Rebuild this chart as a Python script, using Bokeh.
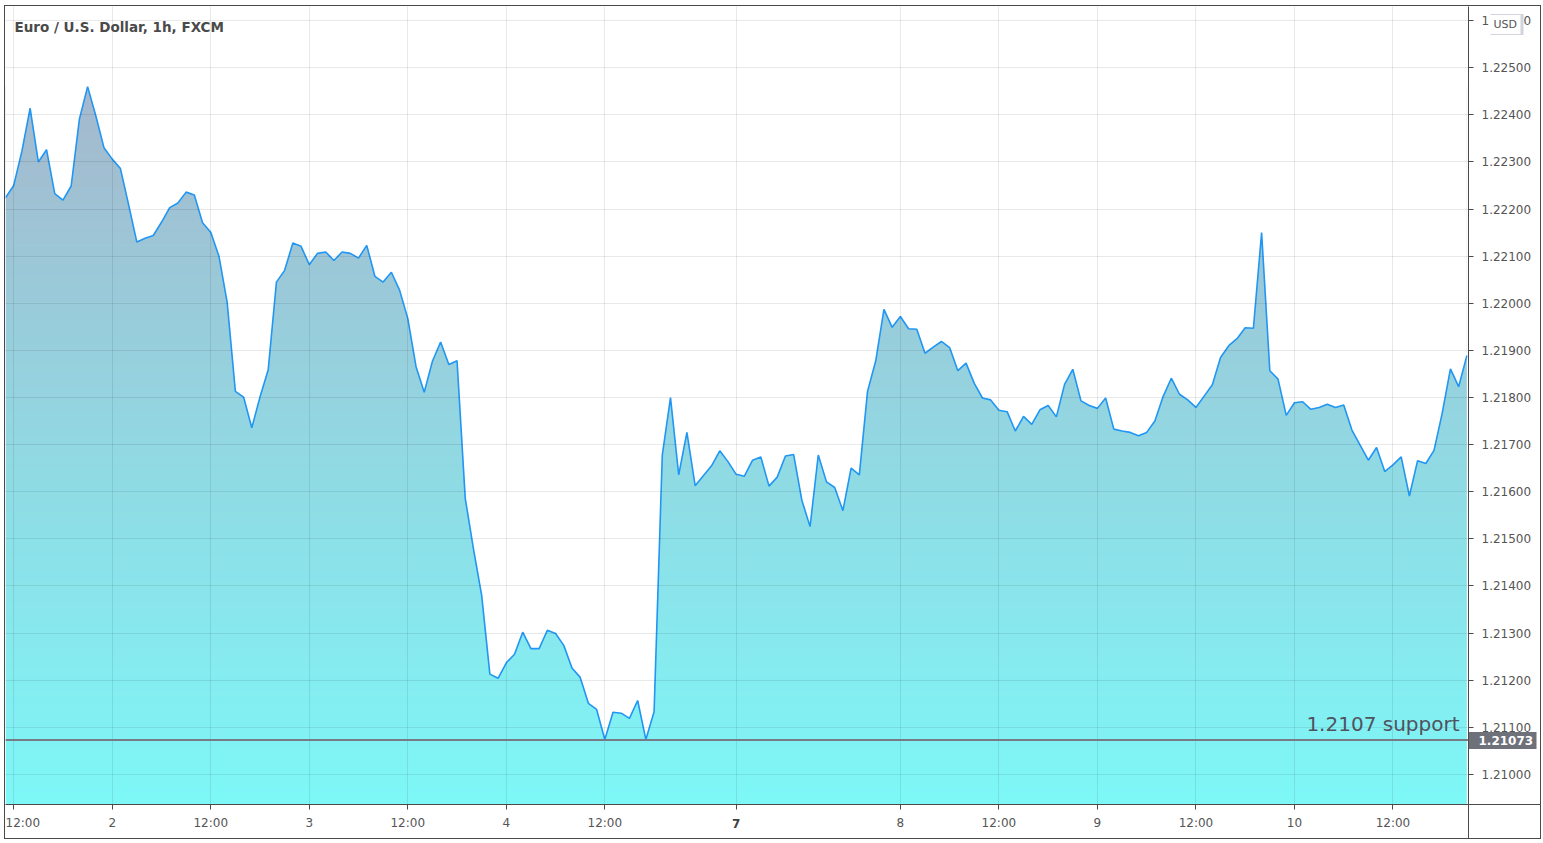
import numpy as np
from bokeh.plotting import figure
from bokeh.models import (FixedTicker, NumeralTickFormatter, Span, Label, LinearAxis,
                          CustomJSTickFormatter)
from bokeh.embed import file_html
from bokeh.resources import INLINE

# ---------------- data ----------------
prices = [
    1.22224, 1.22250, 1.22323, 1.22414, 1.22300, 1.22326, 1.22233, 1.22219, 1.22249, 1.22391,
    1.22460, 1.22398, 1.22330, 1.22306, 1.22286, 1.22209, 1.22130, 1.22138, 1.22144, 1.22172,
    1.22203, 1.22213, 1.22236, 1.22230, 1.22171, 1.22151, 1.22100, 1.22002, 1.21813, 1.21801,
    1.21736, 1.21801, 1.21859, 1.22045, 1.22070, 1.22128, 1.22121, 1.22082, 1.22106, 1.22109,
    1.22091, 1.22109, 1.22106, 1.22096, 1.22123, 1.22057, 1.22045, 1.22066, 1.22028, 1.21968,
    1.21866, 1.21811, 1.21877, 1.21918, 1.21870, 1.21878, 1.21586, 1.21479, 1.21380, 1.21213,
    1.21204, 1.21237, 1.21255, 1.21302, 1.21267, 1.21267, 1.21306, 1.21299, 1.21274, 1.21226,
    1.21206, 1.21151, 1.21138, 1.21074, 1.21132, 1.21130, 1.21119, 1.21157, 1.21074, 1.21133,
    1.21678, 1.21800, 1.21636, 1.21726, 1.21613, 1.21634, 1.21655, 1.21687, 1.21664, 1.21637,
    1.21633, 1.21667, 1.21674, 1.21612, 1.21631, 1.21676, 1.21679, 1.21582, 1.21526, 1.21678,
    1.21621, 1.21609, 1.21560, 1.21650, 1.21636, 1.21813, 1.21878, 1.21987, 1.21949, 1.21972,
    1.21946, 1.21945, 1.21894, 1.21907, 1.21919, 1.21906, 1.21857, 1.21873, 1.21830, 1.21799,
    1.21795, 1.21773, 1.21770, 1.21729, 1.21760, 1.21743, 1.21774, 1.21783, 1.21759, 1.21828,
    1.21860, 1.21793, 1.21783, 1.21777, 1.21799, 1.21733, 1.21729, 1.21726, 1.21719, 1.21726,
    1.21750, 1.21802, 1.21841, 1.21807, 1.21795, 1.21779, 1.21803, 1.21827, 1.21885, 1.21910,
    1.21925, 1.21948, 1.21947, 1.22150, 1.21857, 1.21839, 1.21762, 1.21789, 1.21791, 1.21775,
    1.21779, 1.21786, 1.21779, 1.21784, 1.21731, 1.21699, 1.21667, 1.21694, 1.21643, 1.21657,
    1.21674, 1.21591, 1.21666, 1.21660, 1.21688, 1.21767, 1.21861, 1.21823, 1.21889,
]
bars = list(range(len(prices)))

tick_bars = [1, 13, 25, 37, 49, 61, 73, 89, 109, 121, 133, 145, 157, 169]
tick_labels = ["12:00", "2", "12:00", "3", "12:00", "4", "12:00", "7", "8",
               "12:00", "9", "12:00", "10", "12:00"]
bold_tick = "7"

price_ticks = [1.21000, 1.21100, 1.21200, 1.21300, 1.21400, 1.21500, 1.21600, 1.21700,
               1.21800, 1.21900, 1.22000, 1.22100, 1.22200, 1.22300, 1.22400, 1.22500, 1.22600]

support_level = 1.21073
support_text = "1.2107 support"
title_text = "Euro / U.S. Dollar, 1h, FXCM"
currency_text = "USD"

# ---------------- figure ----------------
X0, X1 = 0, 178.2
Y0, Y1 = 1.209362, 1.22630
W, H = 1537, 834
RB, BB = 74, 36                    # right / bottom axis areas
FW, FH = W - 2 - RB, H - 2 - BB    # frame size (inside 1px border)
AX = "#4a4a4a"
FONT = "DejaVu Sans"

p = figure(width=W, height=H, x_range=(X0, X1), y_range=(Y0, Y1),
           y_axis_location="right", output_backend="svg", toolbar_location=None,
           min_border_left=0, min_border_top=0, min_border_right=RB, min_border_bottom=BB,
           background_fill_color="white", border_fill_color="white",
           outline_line_color=None)
p.styles = {"border": "1px solid " + AX, "margin-left": "4px", "margin-top": "5px"}

# gradient fill (image) masked above the line with white
n = 400
ytop_fill = max(prices)
bottom_rgb = np.array([126, 248, 248], dtype=float)
top_rgb = np.array([166, 184, 205], dtype=float)
t = np.linspace(0, 1, n)[:, None]
cols = bottom_rgb * (1 - t) + top_rgb * t
img = np.empty((n, 1), dtype=np.uint32)
view = img.view(dtype=np.uint8).reshape((n, 1, 4))
view[:, 0, 0] = cols[:, 0].astype(np.uint8)
view[:, 0, 1] = cols[:, 1].astype(np.uint8)
view[:, 0, 2] = cols[:, 2].astype(np.uint8)
view[:, 0, 3] = 255
p.image_rgba(image=[img], x=bars[0], y=Y0, dw=bars[-1] - bars[0], dh=ytop_fill - Y0)
p.varea(x=bars, y1=prices, y2=[Y1] * len(prices), fill_color="white")

p.line(bars, prices, line_color="#2196f3", line_width=1.6)

# support line
p.add_layout(Span(location=support_level, dimension="width", line_color="#787b86",
                  line_width=2))

# grid
p.xgrid.ticker = FixedTicker(ticks=tick_bars)
p.ygrid.ticker = FixedTicker(ticks=price_ticks)
for g in (p.xgrid, p.ygrid):
    g.grid_line_color = "black"
    g.grid_line_alpha = 0.085
    g.level = "guide"

# main axes
main_x = p.xaxis[0]
main_y = p.yaxis[0]
main_x.ticker = FixedTicker(ticks=tick_bars)
main_x.major_label_overrides = {b: ("" if lab == bold_tick else lab)
                                for b, lab in zip(tick_bars, tick_labels)}
main_y.ticker = FixedTicker(ticks=price_ticks)
main_y.formatter = NumeralTickFormatter(format="0.00000")
for ax in (main_x, main_y):
    ax.axis_line_color = AX
    ax.major_tick_line_color = AX
    ax.major_tick_out = 5
    ax.major_tick_in = 0
    ax.minor_tick_line_color = None
    ax.major_label_text_font = FONT
    ax.major_label_text_font_size = "12px"
    ax.major_label_text_color = "#555555"
main_x.major_label_standoff = 6
main_y.major_label_standoff = 8


def extra_axis(ticks, **kw):
    cfg = dict(ticker=FixedTicker(ticks=ticks), axis_line_color=None,
               minor_tick_line_color=None, major_tick_in=0, major_tick_out=0,
               major_tick_line_color=None, major_label_text_font=FONT,
               major_label_text_font_size="12px", major_label_text_color=None,
               major_label_standoff=0)
    cfg.update(kw)
    return LinearAxis(**cfg)


# --- right side (stacked: zero-size helpers, main scale, overlays) ---
corner_h = extra_axis([Y0 + 0.000002], major_tick_in=-RB, major_tick_line_color=AX)
tag_box = extra_axis([support_level], major_tick_in=-68, major_tick_line_color="#6e707a",
                     major_tick_line_width=17)
tag_label = extra_axis([support_level], formatter=NumeralTickFormatter(format="0.00000"),
                       major_label_standoff=-56, major_label_text_color="white",
                       major_label_text_font_style="bold")
usd_y = Y1 - 17.5 * (Y1 - Y0) / FH
usd_border = extra_axis([usd_y], major_tick_in=46, major_tick_out=-13,
                        major_tick_line_color="#d1d4dc", major_tick_line_width=21)
usd_badge = extra_axis([usd_y], major_tick_in=47, major_tick_out=-16,
                       major_tick_line_color="white", major_tick_line_width=19,
                       formatter=CustomJSTickFormatter(code=f"return '{currency_text}'"),
                       major_label_standoff=-43, major_label_text_font_size="11px",
                       major_label_text_color="#555555")
p.right = [corner_h, tag_box, main_y, tag_label, usd_border, usd_badge]

# --- bottom side ---
corner_v = extra_axis([X1 - 0.02], major_tick_in=-BB, major_tick_line_color=AX)
bold_axis = extra_axis([tick_bars[tick_labels.index(bold_tick)]],
                       formatter=CustomJSTickFormatter(code=f"return '{bold_tick}'"),
                       major_label_standoff=-14, major_label_text_font_style="bold",
                       major_label_text_color="#404040")
p.below = [corner_v, main_x, bold_axis]

# title
p.add_layout(Label(x=X0, y=Y1, x_offset=9, y_offset=-20, text=title_text,
                   text_baseline="middle", text_font=FONT,
                   text_font_size="13.5px", text_font_style="bold", text_color="#4a4a4a"))

# support annotation text
p.add_layout(Label(x=X1, y=support_level, x_offset=-9, y_offset=16, text=support_text,
                   text_align="right", text_baseline="middle",
                   text_font=FONT, text_font_size="20px", text_color="#50535e"))

open("out.html", "w").write(file_html(p, INLINE))
